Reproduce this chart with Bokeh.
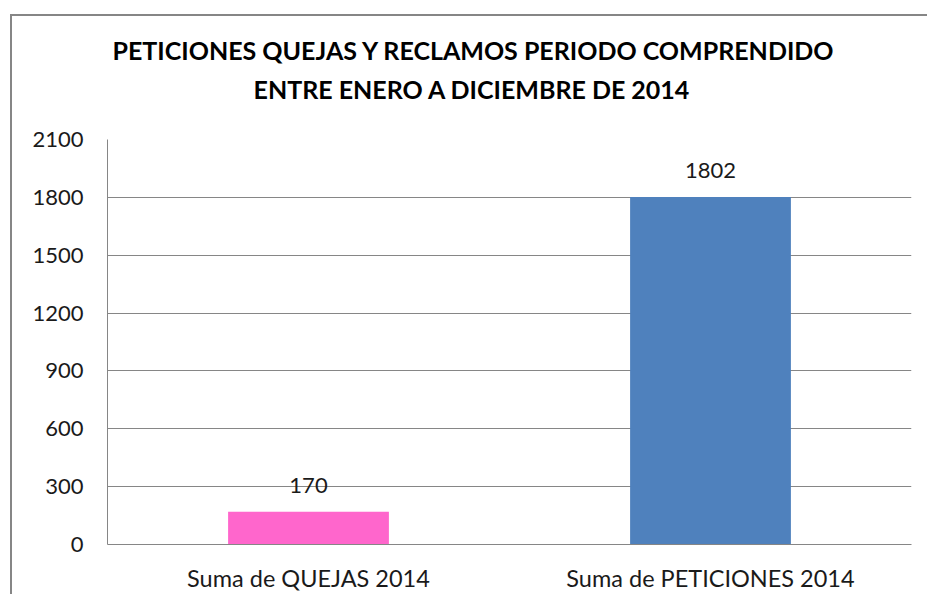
from bokeh.plotting import figure
from bokeh.models import FixedTicker, LabelSet, Title, ColumnDataSource, Range1d
from bokeh.core.properties import value
from bokeh.embed import file_html
from bokeh.resources import INLINE

categories = ["Suma de QUEJAS 2014", "Suma de PETICIONES 2014"]
values = [170, 1802]
colors = ["#FF66CC", "#4F81BD"]
y_ticks = [0, 300, 600, 900, 1200, 1500, 1800, 2100]
title_lines = ["PETICIONES QUEJAS Y RECLAMOS PERIODO COMPRENDIDO",
               "ENTRE ENERO A DICIEMBRE DE 2014"]

FONT = "Lato"
GRAY = "#868686"

src = ColumnDataSource(dict(cat=categories, val=values, color=colors,
                            label=[str(v) for v in values]))

p = figure(x_range=categories, y_range=Range1d(0, 2100),
           width=917, height=580, output_backend="svg", toolbar_location=None,
           min_border_left=95, min_border_right=18, min_border_top=123,
           min_border_bottom=52)
p.title = None
p.styles = {"margin-left": "10px", "margin-top": "14px",
            "border-left": "2px solid #868686", "border-top": "2px solid #868686"}

p.vbar(x="cat", top="val", width=0.4, color="color", line_color=None, source=src)

p.add_layout(LabelSet(x="cat", y="val", text="label", source=src, y_offset=19,
                      text_align="center", text_baseline="alphabetic",
                      text_font=value(FONT), text_font_size=value("22px"),
                      text_color="#1a1a1a"))

# title: second line nearest the frame, first line above it
for line, off, so in [(title_lines[1], 146, 72), (title_lines[0], 5, -58)]:
    p.add_layout(Title(text=line, align="left", offset=off, standoff=so,
                       text_font=FONT, text_font_size="25px",
                       text_font_style="bold", text_color="#000000"), "above")

p.outline_line_color = None
p.background_fill_color = "white"
p.border_fill_color = "white"
p.xgrid.grid_line_color = None
p.ygrid.grid_line_color = GRAY
p.ygrid.grid_line_width = 1

p.yaxis.ticker = FixedTicker(ticks=y_ticks)
p.yaxis.axis_line_color = GRAY
p.yaxis.major_tick_line_color = None
p.yaxis.minor_tick_line_color = None
p.yaxis.major_label_standoff = 18
p.yaxis.major_label_text_font = FONT
p.yaxis.major_label_text_font_size = "22px"
p.yaxis.major_label_text_color = "#1a1a1a"

p.xaxis.axis_line_color = GRAY
p.xaxis.major_tick_line_color = None
p.xaxis.minor_tick_line_color = None
p.xaxis.major_label_standoff = 13
p.xaxis.major_label_text_font = FONT
p.xaxis.major_label_text_font_size = "23.5px"
p.xaxis.major_label_text_color = "#1a1a1a"

open("out.html", "w").write(file_html(p, INLINE))
